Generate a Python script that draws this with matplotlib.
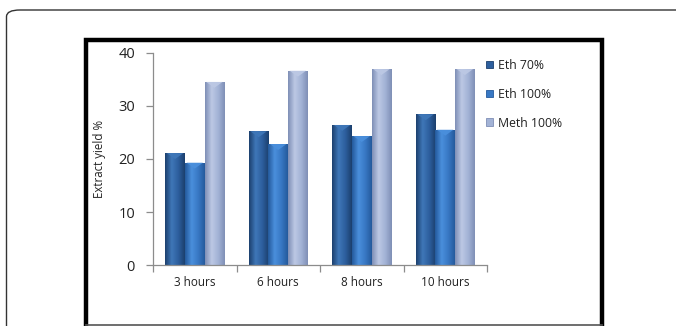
import numpy as np
import matplotlib
matplotlib.use("Agg")
import matplotlib.pyplot as plt
from matplotlib.patches import Rectangle, FancyBboxPatch, Polygon
from matplotlib.lines import Line2D
from matplotlib.colors import LinearSegmentedColormap

categories = ["3 hours", "6 hours", "8 hours", "10 hours"]
series_names = ["Eth 70%", "Eth 100%", "Meth 100%"]
eth70 = [21.1, 25.2, 26.4, 28.4]
eth100 = [19.3, 22.8, 24.3, 25.5]
meth100 = [34.5, 36.6, 36.9, 36.9]
series_values = [eth70, eth100, meth100]
yticks = [0, 10, 20, 30, 40]

base_colors = ["#2d5f9e", "#3878c4", "#a3b3d6"]
edge_colors = ["#1c406e", "#245a9c", "#7f8fb6"]
light_colors = ["#3f77b8", "#4a8fdc", "#bcc8e4"]

plt.rcParams['font.family'] = ['Open Sans', 'DejaVu Sans']

fig = plt.figure(figsize=(6.76, 3.26), dpi=100)
W, H = 676, 326

# outer rounded frame (right and bottom edges run off the image)
fig.patches.append(FancyBboxPatch((6.5 / W, -30 / H), 760 / W, (316 + 30) / H,
                                  boxstyle="round,pad=0,rounding_size=0.02",
                                  transform=fig.transFigure, fill=False,
                                  edgecolor="#333333", linewidth=1.0))
# inner black frame
fig.patches.append(Rectangle((86 / W, -10 / H), (602 - 86) / W, (286 + 10) / H,
                             transform=fig.transFigure, fill=False,
                             edgecolor="black", linewidth=3.2))
fig.lines.append(Line2D([86 / W, 602 / W], [1.2 / H, 1.2 / H], transform=fig.transFigure,
                        color="#555555", linewidth=1.2))

ax = fig.add_axes([153 / W, 60.7 / H, (487 - 153) / W, (273.3 - 60.7) / H])
ax.set_xlim(0, len(categories))
ax.set_ylim(0, 40)

bw = 0.235
offsets = [-bw, 0, bw]
for si, vals in enumerate(series_values):
    cmap = LinearSegmentedColormap.from_list(
        "g%d" % si, [edge_colors[si], light_colors[si], base_colors[si], edge_colors[si]])
    grad = np.linspace(0, 1, 64).reshape(1, -1)
    for ci, v in enumerate(vals):
        x0 = ci + 0.5 + offsets[si] - bw / 2
        rect = Rectangle((x0, 0), bw, v, facecolor=base_colors[si], edgecolor="none", zorder=2 + si * 0.1)
        ax.add_patch(rect)
        im = ax.imshow(grad, cmap=cmap, aspect="auto", extent=(x0, x0 + bw, 0, v),
                       zorder=2 + si * 0.1, interpolation="bilinear")
        im.set_clip_path(rect)
        th = 1.1
        tri = Polygon([(x0 + 0.02, v), (x0 + bw - 0.02, v), (x0 + bw / 2, v - th)],
                      closed=True, facecolor=light_colors[si], edgecolor="none",
                      alpha=0.95, zorder=2.05 + si * 0.1)
        ax.add_patch(tri)

handles = [Rectangle((0, 0), 1, 1, facecolor=base_colors[i], edgecolor=edge_colors[i], linewidth=0.6)
           for i in range(3)]
leg = fig.legend(handles, series_names, loc="upper left", bbox_to_anchor=(481 / W, 1 - 54 / H),
                 frameon=False, fontsize=8.8, handlelength=0.55, handleheight=0.6,
                 handletextpad=0.4, labelspacing=1.3, borderaxespad=0)
for t in leg.get_texts():
    t.set_color("#222222")

for s in ["top", "right"]:
    ax.spines[s].set_visible(False)
for s in ["left", "bottom"]:
    ax.spines[s].set_color("#8c8c8c")
    ax.spines[s].set_linewidth(0.9)

ax.set_yticks(yticks)
ax.set_yticklabels([str(t) for t in yticks], fontsize=10.5, color="#222222")
ax.tick_params(axis="y", length=5, width=0.9, color="#8c8c8c", pad=8)

ax.set_xticks(np.arange(len(categories)) + 0.5)
ax.set_xticklabels(categories, fontsize=8.5, color="#222222")
ax.set_xticks(np.arange(len(categories) + 1), minor=True)
ax.tick_params(axis="x", which="major", length=0, pad=8)
ax.tick_params(axis="x", which="minor", length=5, width=0.9, color="#8c8c8c")

ax.set_ylabel("Extract yield %", fontsize=8.3, color="#222222", labelpad=9)
ax.set_facecolor("none")

fig.savefig("out.png", dpi=100)
